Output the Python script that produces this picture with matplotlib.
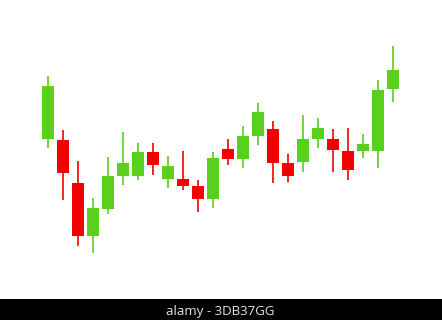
import matplotlib
matplotlib.use("Agg")
import matplotlib.pyplot as plt
import numpy as np

# Candle data (arbitrary price units)
opens  = [181, 180, 137, 84, 111, 144, 144, 168, 141, 141, 134, 121, 171, 161, 184, 191, 157, 158, 181, 181, 169, 169, 169, 231]
highs  = [244, 190, 159, 122, 163, 188, 177, 177, 164, 169, 140, 168, 181, 194, 217, 199, 166, 205, 202, 191, 192, 186, 240, 274]
lows   = [172, 120, 74, 67, 106, 135, 140, 145, 132, 130, 108, 112, 155, 152, 175, 137, 138, 148, 172, 148, 140, 162, 152, 218]
closes = [234, 147, 84, 112, 144, 157, 168, 155, 154, 134, 121, 162, 161, 184, 208, 157, 144, 181, 192, 170, 150, 176, 230, 250]
watermark = "alamy - 3DB37GG"

GREEN = "#58d01c"
RED = "#f50000"

fig = plt.figure(figsize=(4.42, 3.2), dpi=100)
fig.patch.set_facecolor("white")
ax = fig.add_axes([0, 0, 1, 1])
ax.set_xlim(-48 / 15, (442 - 48) / 15)
ax.set_ylim(0, 320)
ax.axis("off")

x = np.arange(len(opens))
o = np.array(opens, float)
c = np.array(closes, float)
h = np.array(highs, float)
l = np.array(lows, float)
colors = [GREEN if cc >= oo else RED for oo, cc in zip(o, c)]

ax.vlines(x, l, h, colors=colors, linewidth=1.2, zorder=1)
ax.bar(x, c - o, bottom=o, width=0.74, color=colors, linewidth=0, zorder=2)

# black footer band
fig.patches.append(plt.Rectangle((0, 0), 1, 21 / 320, transform=fig.transFigure,
                                 facecolor="black", edgecolor="none", zorder=5))
fig.text(220.5 / 442, 5.5 / 320, watermark, color="#e6e6e6", fontsize=9.5,
         family=["Open Sans", "DejaVu Sans"], ha="center", va="baseline", zorder=6)

fig.savefig("out.png", dpi=100, facecolor="white")
